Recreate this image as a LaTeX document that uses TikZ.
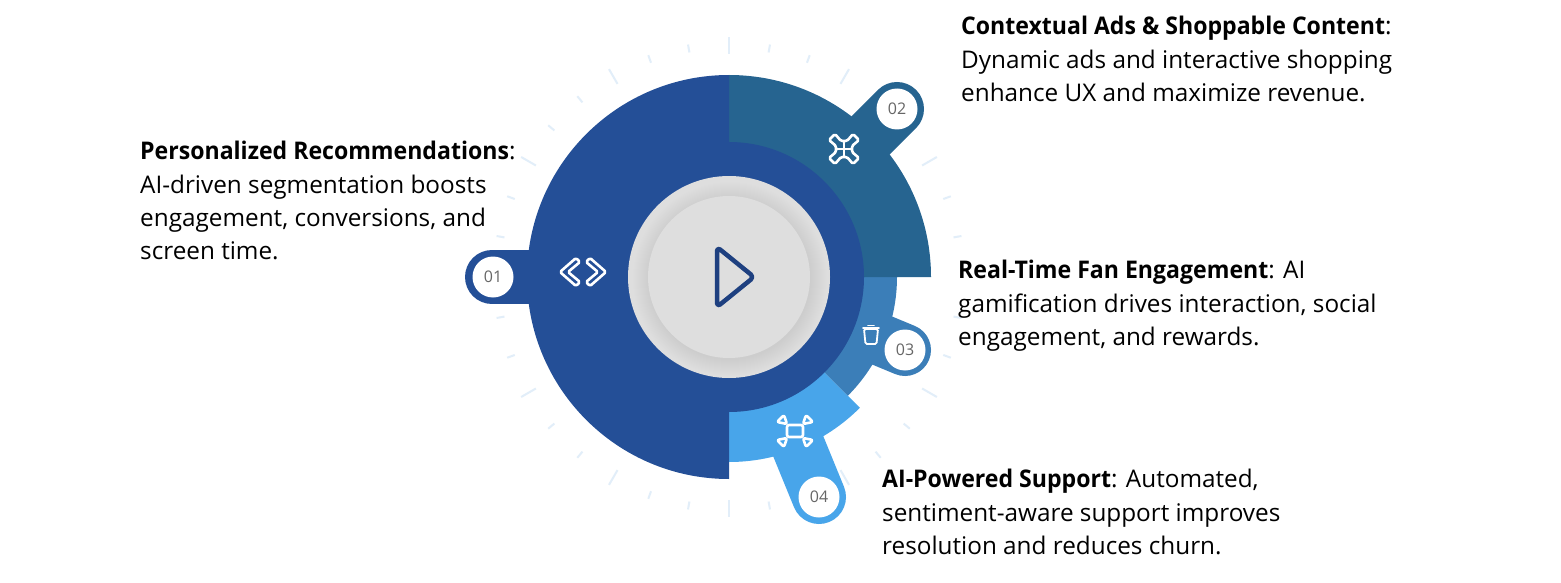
\documentclass[tikz,border=0pt]{standalone}
\usepackage{fontspec}
\usetikzlibrary{calc}
\setmainfont{Open Sans}[BoldFeatures={FakeStretch=0.95}]
\definecolor{cA}{HTML}{244F97}
\definecolor{cB}{HTML}{266490}
\definecolor{cC}{HTML}{3B7EB8}
\definecolor{cD}{HTML}{48A5EA}
\definecolor{cTick}{HTML}{E2EEF9}
\definecolor{cPlay}{HTML}{1E4080}
\definecolor{cDisc}{HTML}{DEDEDE}
\definecolor{cNum}{HTML}{666666}
\tikzset{
  numdot/.style={circle,fill=white,minimum size=41pt,inner sep=0pt,font=\fontsize{16}{16}\selectfont,text=cNum},
  note/.style={anchor=north west,inner sep=0pt,align=left,text=black,font=\fontsize{24.3}{33.4}\selectfont},
  ico/.style={draw=white,line width=2.6pt,rounded corners=1.5pt,line join=round},
  tick/.style={draw=cTick,line width=2pt},
}
\begin{document}
\begin{tikzpicture}[x=1pt,y=-1pt]
\useasboundingbox (0,0) rectangle (1561,583);
\fill[white] (0,0) rectangle (1561,583);
\coordinate (c) at (729,277);
% ticks
\foreach \a in {0,30,60,120,150,180,210,240,300,330}
  \draw[tick] ($(c)+(\a-90:223)$) -- ($(c)+(\a-90:240)$);
\foreach \a in {10,20,40,50,70,80,100,110,130,140,160,170,190,200,220,230,250,260,280,290,310,320,340,350}
  \draw[tick] ($(c)+(\a-90:228)$) -- ($(c)+(\a-90:236)$);
% tab dots
\coordinate (t1) at (492,277);
\coordinate (t2) at (897,109);
\coordinate (t3) at (905,350);
\coordinate (t4) at (819,497);
% segments
\draw[cD,line width=54pt,line cap=round] (c) -- (t4);
\fill[cD] (c) -- (729,462) arc[start angle=90,end angle=45,radius=185] -- cycle;
\draw[cC,line width=52pt,line cap=round] (c) -- (t3);
\fill[cC] (c) -- (897,277) arc[start angle=0,end angle=45,radius=168] -- cycle;
\draw[cB,line width=54pt,line cap=round] (c) -- (t2);
\fill[cB] (c) -- (729,75) arc[start angle=-90,end angle=0,radius=202] -- cycle;
\draw[cA,line width=54pt,line cap=round] (c) -- (t1);
\fill[cA] (729,479) arc[start angle=90,end angle=270,radius=202] -- cycle;
\fill[cA] (c) circle[radius=135];
% disc
\fill[cDisc] (c) circle[radius=101];
\foreach \r in {81,...,97}
  \fill[black,opacity=.005] (730,279) circle[radius=\r];
\fill[cDisc] (c) circle[radius=81];
\draw[cPlay,line width=4.5pt,rounded corners=4pt,line join=round] (717,247) -- (717,307) -- (754,277) -- cycle;
% dots
\node[numdot] (n1) at (493,277) {01};
\node[numdot] (n2) at (t2) {02};
\node[numdot] (n3) at (t3) {03};
\node[numdot] (n4) at (t4) {04};
% icon 1
\draw[ico] (576,258) -- (560,272) -- (576,286) -- (580,282) -- (568,272) -- (580,262) -- cycle;
\draw[ico] (590,258) -- (606,272) -- (590,286) -- (586,282) -- (598,272) -- (586,262) -- cycle;
% icon 2
\begin{scope}[shift={(844,149)}]
\draw[ico] (-3,-8) -- (-9,-15) -- (-15,-9) -- (-8,-3) -- (-8,3) -- (-15,9) -- (-9,15) -- (-3,8) -- (3,8) -- (9,15) -- (15,9) -- (8,3) -- (8,-3) -- (15,-9) -- (9,-15) -- (3,-8) -- cycle;
\draw[white,line width=1.8pt] (0,-8) -- (0,8) (-8,0) -- (8,0);
\end{scope}
% icon 3
\draw[draw=white,line width=1.8pt,rounded corners=1.5pt] (864,329) -- (865.5,344) -- (876.5,344) -- (878,329) -- cycle;
\draw[white,line width=1.6pt,line cap=round] (863,328) -- (879,328) (868,325.5) -- (874,325.5);
% icon 4
\begin{scope}[shift={(795,431)}]
\draw[ico,rounded corners=2pt] (-8,-6) rectangle (8,6);
\draw[ico,rounded corners=2pt] (-11,-16) -- (-18,-9) -- (-8,-7) -- cycle;
\draw[ico,rounded corners=2pt] (11,-16) -- (18,-9) -- (8,-7) -- cycle;
\draw[ico,rounded corners=2pt] (-11,16) -- (-18,9) -- (-8,7) -- cycle;
\draw[ico,rounded corners=2pt] (11,16) -- (18,9) -- (8,7) -- cycle;
\end{scope}
% text
\node[note] (a) at (140,141) {\textbf{Personalized Recommendations}:\\AI-driven segmentation boosts\\engagement, conversions, and\\screen time.};
\node[note] (b) at (961,16) {\textbf{Contextual Ads \& Shoppable Content}:\\Dynamic ads and interactive shopping\\enhance UX and maximize revenue.};
\node[note] (d) at (958,260) {\textbf{Real-Time Fan Engagement}: AI\\gamification drives interaction, social\\engagement, and rewards.};
\node[note] (e) at (882,469) {\textbf{AI-Powered Support}: Automated,\\sentiment-aware support improves\\resolution and reduces churn.};
\end{tikzpicture}
\end{document}
